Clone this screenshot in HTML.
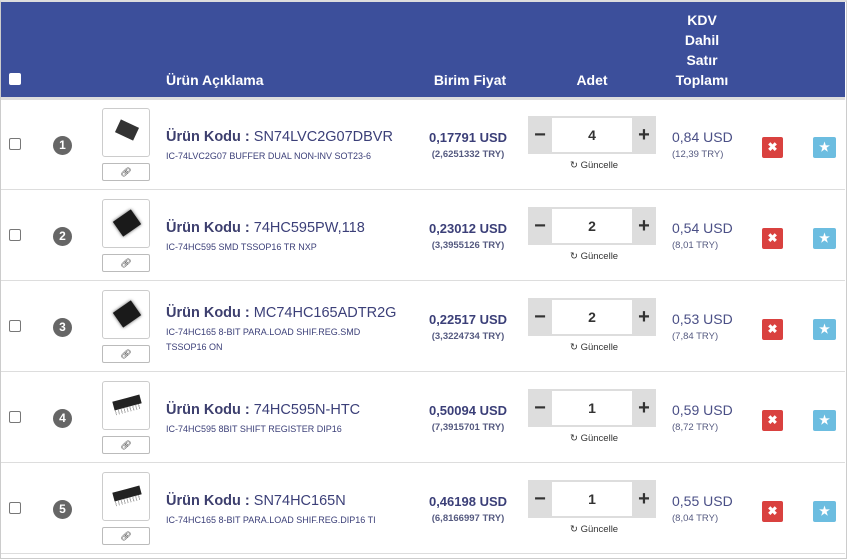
<!DOCTYPE html>
<html><head><meta charset="utf-8"><style>
*{box-sizing:border-box;margin:0;padding:0}
body{width:847px;height:559px;background:#fff;font-family:"Liberation Sans",sans-serif;position:relative;overflow:hidden;color:#3b3f78}
.a{position:absolute}
.hdr{left:1px;top:2px;width:844px;height:95px;background:#3c4f9b}
.ht{color:#fff;font-weight:bold;font-size:14px;position:absolute;text-align:center;line-height:20px}
.cb{width:12px;height:12px;border:1px solid #777;border-radius:2px;background:#fff}
.row{position:absolute;left:1px;width:844px;height:91px;border-bottom:1px solid #ddd}
.num{width:19px;height:19px;border-radius:50%;background:#666;color:#fff;font-weight:bold;font-size:12px;text-align:center;line-height:19px}
.img{width:48px;height:49px;border:1px solid #ccc;border-radius:3px;background:#fff}
.lnk{width:48px;height:18px;border:1px solid #bbb;border-radius:2px;font-size:9px;text-align:center;line-height:16px;color:#333}
.t{font-size:14.5px;white-space:nowrap}
.t b{color:#3d3f6e}
.d{font-size:9px;line-height:15px;width:225px}
.p{width:130px;text-align:center}
.qb{width:128px;height:38px;background:#ddd}
.qi{width:80px;height:34px;background:#fff;font-weight:bold;font-size:14px;text-align:center;line-height:34px;color:#333}
.pm{position:absolute;top:0;width:24px;height:38px;line-height:38px;text-align:center;font-size:20px;font-weight:bold;color:#333}
.btn{width:21px;height:21px;border-radius:2px;color:#fff;text-align:center;font-size:12px;line-height:21px;font-weight:bold}
</style></head><body>
<div class="a" style="left:0;top:0;width:847px;height:559px;border:1px solid #ccc;border-top:2px solid #ddd"></div>
<div class="a hdr"></div>
<div class="a" style="left:1px;top:97px;width:844px;height:3px;background:#ddd"></div>
<div class="a cb" style="left:9px;top:73px;border-color:#fff"></div>
<div class="ht" style="left:166px;top:70px;text-align:left">Ürün Açıklama</div>
<div class="ht" style="left:420px;top:70px;width:100px">Birim Fiyat</div>
<div class="ht" style="left:542px;top:70px;width:100px">Adet</div>
<div class="ht" style="left:652px;top:10px;width:100px">KDV<br>Dahil<br>Satır<br>Toplamı</div>
<div id="rows"></div>
<script>
var R=[["1","SN74LVC2G07DBVR","IC-74LVC2G07 BUFFER DUAL NON-INV SOT23-6","0,17791","2,6251332","4","0,84","12,39"],
["2","74HC595PW,118","IC-74HC595 SMD TSSOP16 TR NXP","0,23012","3,3955126","2","0,54","8,01"],
["3","MC74HC165ADTR2G","IC-74HC165 8-BIT PARA.LOAD SHIF.REG.SMD TSSOP16 ON","0,22517","3,3224734","2","0,53","7,84"],
["4","74HC595N-HTC","IC-74HC595 8BIT SHIFT REGISTER DIP16","0,50094","7,3915701","1","0,59","8,72"],
["5","SN74HC165N","IC-74HC165 8-BIT PARA.LOAD SHIF.REG.DIP16 TI","0,46198","6,8166997","1","0,55","8,04"]];
var h="";
R.forEach(function(r,i){var T=100+i*91;var ty=(i==2)?T+23:T+29;
var chip=i>=3?'<div class="a" style="left:10px;top:16px;width:28px;height:9px;background:#222;transform:rotate(-15deg)"></div><div class="a" style="left:12px;top:25px;width:26px;height:5px;background:repeating-linear-gradient(90deg,#aaa 0 1px,transparent 1px 3px);transform:rotate(-15deg)"></div>':(i==0?'<div class="a" style="left:14px;top:14px;width:20px;height:14px;background:#333;transform:rotate(25deg)"></div>':'<div class="a" style="left:13px;top:14px;width:22px;height:18px;background:#1a1a1a;transform:rotate(-35deg);box-shadow:0 0 3px #555"></div>');
h+='<div class="row" style="top:'+(T-1)+'px"></div>'+
'<div class="a cb" style="left:9px;top:'+(T+38)+'px"></div>'+
'<div class="a num" style="left:53px;top:'+(T+36)+'px">'+r[0]+'</div>'+
'<div class="a img" style="left:102px;top:'+(T+8)+'px">'+chip+'</div>'+
'<div class="a lnk" style="left:102px;top:'+(T+63)+'px">&#x1F517;&#xFE0E;</div>'+
'<div class="a t" style="left:166px;top:'+ty+'px"><b>Ürün Kodu :</b> '+r[1]+'</div>'+
'<div class="a d" style="left:166px;top:'+(ty+20)+'px">'+r[2]+'</div>'+
'<div class="a p" style="left:403px;top:'+(T+30)+'px;font-weight:bold;font-size:13px">'+r[3]+' USD</div>'+
'<div class="a p" style="left:403px;top:'+(T+49)+'px;font-size:9.5px;font-weight:bold;color:#555a80">('+r[4]+' TRY)</div>'+
'<div class="a qb" style="left:528px;top:'+(T+16)+'px"><div class="pm" style="left:0">−</div><div class="a qi" style="left:24px;top:2px">'+r[5]+'</div><div class="pm" style="left:104px">+</div></div>'+
'<div class="a" style="left:570px;top:'+(T+60)+'px;font-size:9.5px;color:#333">&#x21BB; Güncelle</div>'+
'<div class="a" style="left:672px;top:'+(T+29)+'px;font-size:14px;color:#4a4f86">'+r[6]+' USD</div>'+
'<div class="a" style="left:672px;top:'+(T+49)+'px;font-size:9.5px;color:#555a80">('+r[7]+' TRY)</div>'+
'<div class="a btn" style="left:762px;top:'+(T+37)+'px;background:#d9413f">✖</div>'+
'<div class="a btn" style="left:813px;top:'+(T+37)+'px;background:#6cbde0;width:23px">★</div>';});
document.getElementById("rows").innerHTML=h;
</script>
</body></html>
